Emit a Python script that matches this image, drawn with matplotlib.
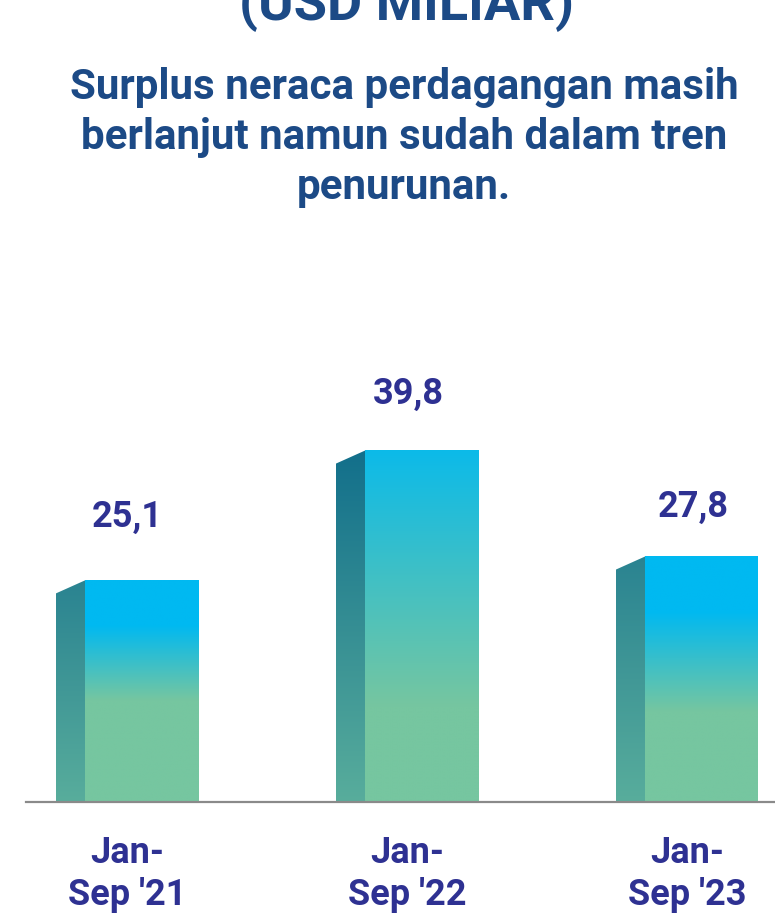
import numpy as np
import matplotlib
matplotlib.use("Agg")
import matplotlib.pyplot as plt
from matplotlib.patches import Polygon
from matplotlib.colors import to_rgb

# ---------------- data ----------------
categories = ["Jan-\nSep '21", "Jan-\nSep '22", "Jan-\nSep '23"]
values = [25.1, 39.8, 27.8]
value_labels = ["25,1", "39,8", "27,8"]
title = "(USD MILIAR)"
subtitle_lines = ["Surplus neraca perdagangan masih",
                  "berlanjut namun sudah dalam tren",
                  "penurunan."]

# ---------------- style ----------------
W, H, DPI = 775, 917, 100
PX_PER_UNIT = 8.83          # vertical pixels per data unit
PX_PER_CAT = 280.0          # horizontal pixels per category
FONT = ["Roboto", "DejaVu Sans"]
TITLE_COLOR = "#1c4a86"
LABEL_COLOR = "#2e3192"
CYAN = "#00b9f1"
GREEN = "#76c6a0"
SIDE_BOTTOM = "#58ad9c"
side_top_colors = ["#2a8391", "#126f8b", "#2a8391"]
# gradient transition (upper, lower) in data units for each front face
front_grad = [(20.0, 11.5), (43.0, 10.8), (21.5, 10.2)]
# label offsets in pixels (dx, dy above bar top to baseline)
label_offsets = [(0, 53), (1, 47), (6, 40)]

side_w = 29 / PX_PER_CAT
front_w = 113 / PX_PER_CAT
half_full = (side_w + front_w) / 2
slant = 13 / PX_PER_UNIT

fig = plt.figure(figsize=(W / DPI, H / DPI), dpi=DPI)
fig.patch.set_facecolor("white")

ax_left_px, ax_right_px = 26, 775
base_px, top_px = 802, 300
ax = fig.add_axes([ax_left_px / W, (H - base_px) / H,
                   (ax_right_px - ax_left_px) / W, (base_px - top_px) / H])
x0 = -(127 - ax_left_px) / PX_PER_CAT
x1 = x0 + (ax_right_px - ax_left_px) / PX_PER_CAT
y_top = (base_px - top_px) / PX_PER_UNIT


def grad_colors(ys, stops):
    ys_s = np.array([s[0] for s in stops])
    cols = np.array([to_rgb(s[1]) for s in stops])
    order = np.argsort(ys_s)
    ys_s = ys_s[order]
    cols = cols[order]
    return np.stack([np.interp(ys, ys_s, cols[:, k]) for k in range(3)], axis=-1)


n = 400
for i, v in enumerate(values):
    sl = i - half_full
    fl = sl + side_w
    fr = fl + front_w
    # front face
    ys = np.linspace(0, v, n)
    hi, lo = front_grad[i]
    img = grad_colors(ys, [(lo, GREEN), (hi, CYAN)])[:, None, :]
    ax.imshow(img, extent=[fl, fr, 0, v], origin="lower", aspect="auto",
              interpolation="bilinear", zorder=2)
    # side face
    img2 = grad_colors(ys, [(0, SIDE_BOTTOM), (v, side_top_colors[i])])[:, None, :]
    poly = Polygon([(sl, 0), (fl, 0), (fl, v), (sl, v - slant)], closed=True,
                   facecolor="none", edgecolor="none", transform=ax.transData)
    ax.add_patch(poly)
    im = ax.imshow(img2, extent=[sl, fl, 0, v], origin="lower", aspect="auto",
                   interpolation="bilinear", zorder=2)
    im.set_clip_path(poly)
    dx, dy = label_offsets[i]
    ax.annotate(value_labels[i], xy=(i, v), xytext=(dx * 0.72, dy * 0.72),
                textcoords="offset points", ha="center", va="baseline",
                fontsize=26, fontweight="bold", color=LABEL_COLOR, family=FONT)

ax.set_xlim(x0, x1)
ax.set_ylim(0, y_top)
for s in ["top", "right", "left"]:
    ax.spines[s].set_visible(False)
ax.spines["bottom"].set_color("#8a8a8a")
ax.spines["bottom"].set_linewidth(1.6)
ax.spines["bottom"].set_zorder(5)
ax.set_yticks([])
ax.set_xticks(range(len(categories)))
ax.set_xticklabels(categories, fontsize=26, fontweight="bold", color=LABEL_COLOR,
                   family=FONT, linespacing=1.2)
ax.tick_params(axis="x", length=0, pad=24)
ax.set_facecolor("none")

# titles
fig.text(406.5 / W, (H - 20) / H, title, ha="center", va="baseline",
         fontsize=39, fontweight="bold", color=TITLE_COLOR, family=FONT)
for k, line in enumerate(subtitle_lines):
    fig.text(404 / W, (H - (99 + 50 * k)) / H, line, ha="center", va="baseline",
             fontsize=30.3, fontweight="bold", color=TITLE_COLOR, family=FONT)

fig.savefig("out.png", dpi=DPI, facecolor="white")
